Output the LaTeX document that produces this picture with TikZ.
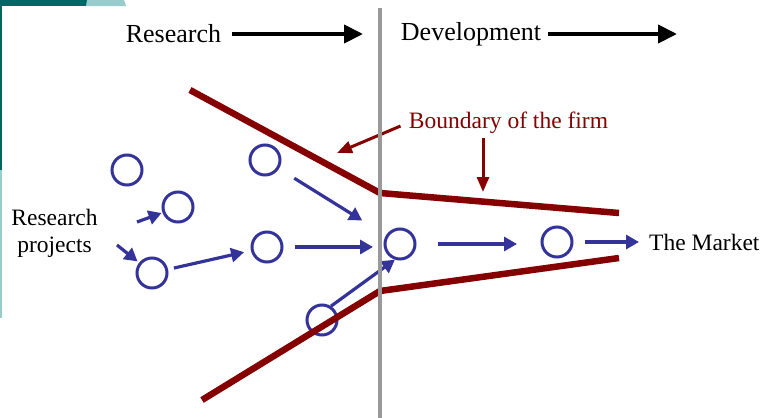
\documentclass[tikz,border=0pt]{standalone}
\usepackage{fontspec}
\setmainfont{Liberation Serif}
\usetikzlibrary{arrows.meta}
\begin{document}
\begin{tikzpicture}[x=1pt,y=-1pt,
  project/.style={circle,draw=projblue,line width=3pt,minimum size=30pt,inner sep=0pt},
  flow/.style={projblue,line width=3.2pt,-{Triangle[length=13pt,width=14pt]}},
  phase/.style={black,line width=4pt,-{Triangle[length=19pt,width=18pt]}},
  firm/.style={firmred,line width=6.5pt,line join=round},
  pointer/.style={firmred,line width=3pt,-{Triangle[length=15pt,width=12pt]}},
  words/.style={font=\fontsize{23.5}{27}\selectfont,inner sep=0pt}]
 \definecolor{projblue}{HTML}{333399}
 \definecolor{firmred}{HTML}{850000}
 \definecolor{slideteal}{HTML}{006666}
 \definecolor{slidelight}{HTML}{99CCCC}
 \useasboundingbox (0,0) rectangle (761,418);
 % slide frame
 \fill [slideteal] (0,0) rectangle (87,6);
 \fill [slidelight] (87,0) -- (124,0) -- (126,6) -- (86,6) -- cycle;
 \fill [slideteal] (0,6) rectangle (2,170);
 \fill [slidelight] (0,170) rectangle (2,318);
 % phases
 \node [words,font=\fontsize{26}{30}\selectfont] (research) at (173.5,34) {Research};
 \node [words,font=\fontsize{26}{30}\selectfont] (development) at (471,34) {Development};
 \coordinate (researchend) at (363,34);
 \coordinate (developmentend) at (677,34);
 \draw [phase,shorten <=11pt] (research.east) -- (researchend);
 \draw [phase,shorten <=7pt] (development.east) -- (developmentend);
 % projects
 \node [words,align=center] (projects) at (54.5,233) {Research\\projects};
 \node [project] (p1) at (127,170) {};
 \node [project] (p2) at (178,207) {};
 \node [project] (p3) at (152,273) {};
 \node [project] (p4) at (265,160) {};
 \node [project] (p5) at (267,247) {};
 \node [project] (p6) at (322,320) {};
 \node [project] (p7) at (400,244) {};
 \node [project] (p8) at (557,242) {};
 \node [words,anchor=west] (market) at (649,242) {The Market};
 \coordinate (feed1) at (137,222);
 \coordinate (feed2) at (117,245);
 \draw [flow,shorten >=1pt] (feed1) -- (p2);
 \draw [flow,shorten >=2pt] (feed2) -- (p3);
 \draw [flow,shorten <=6pt,shorten >=7pt] (p3) -- (p5);
 \draw [flow,shorten <=18pt,shorten >=28pt] (p4) -- (p7);
 \draw [flow,shorten <=11.5pt,shorten >=10.5pt] (p5.east) -- (p5.east -| p7.west);
 \draw [flow] (p6.57) -- (p7.252);
 \draw [flow,shorten <=21.5pt,shorten >=23.5pt] (p7.east) -- (p7.east -| p8.west);
 \draw [flow,shorten <=11pt,shorten >=10pt] (p8) -- (market);
 % boundary of the firm
 \draw [firm] (190,90) -- (380,193) -- (619,213);
 \draw [firm] (202,400) -- (380,291) -- (619,258);
 \node [words,text=firmred] (boundary) at (508.5,122.5) {Boundary of the firm};
 \coordinate (boundaryup) at (337,153);
 \coordinate (boundarydown) at (483,192);
 \draw [pointer,shorten <=9pt] (boundary.west) -- (boundaryup);
 \draw [pointer,shorten <=4pt] (boundary.south -| boundarydown) -- (boundarydown);
 % research / development divide
 \draw [gray!80,line width=4pt] (380,8) -- (380,418);
\end{tikzpicture}
\end{document}
